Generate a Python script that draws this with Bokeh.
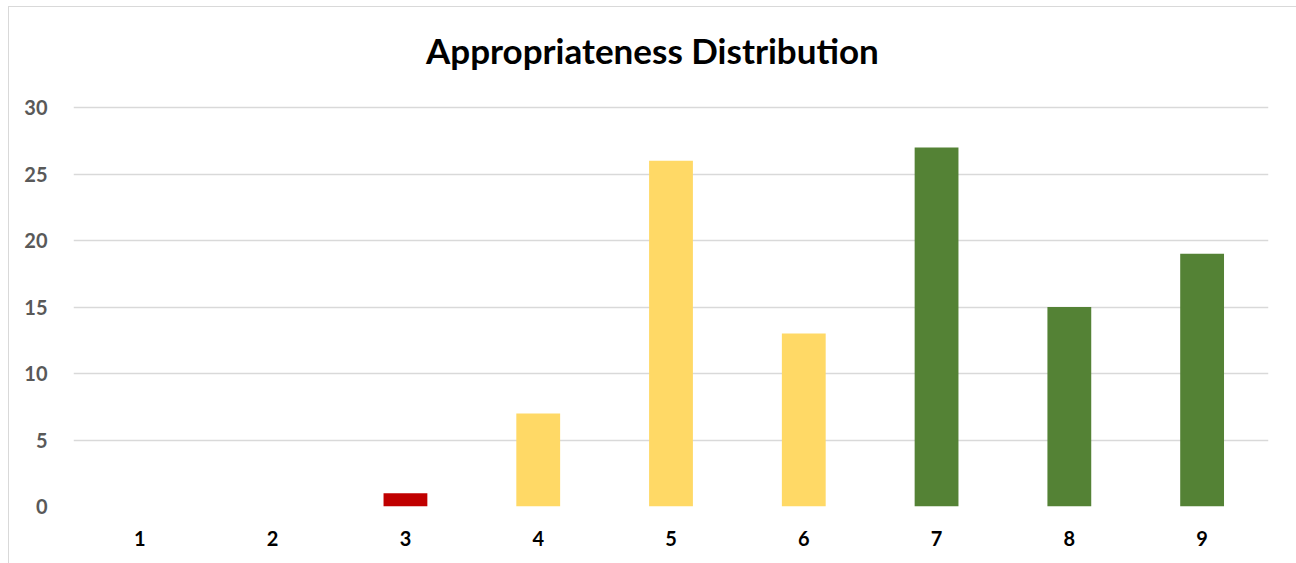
from bokeh.plotting import figure
from bokeh.models import ColumnDataSource, Range1d, FixedTicker, Label
from bokeh.embed import file_html
from bokeh.resources import INLINE

categories = ["1", "2", "3", "4", "5", "6", "7", "8", "9"]
counts = [0, 0, 1, 7, 26, 13, 27, 15, 19]
bar_colors = ["#C00000", "#C00000", "#C00000", "#FFD966", "#FFD966", "#FFD966",
              "#548235", "#548235", "#548235"]
y_ticks = [0, 5, 10, 15, 20, 25, 30]
title_text = "Appropriateness Distribution"

src = ColumnDataSource(dict(cat=categories, val=counts, color=bar_colors))

# the frame reaches the top of the chart area so that the title can sit inside it;
# gridlines and labels only appear at the fixed ticks 0..30
p = figure(x_range=categories, y_range=Range1d(0, 37.52), width=1288, height=560,
           output_backend="svg", toolbar_location=None, title=None,
           min_border_left=64, min_border_right=29, min_border_top=0, min_border_bottom=61)
p.x_range.range_padding = 0
p.vbar(x="cat", top="val", width=0.33, fill_color="color", line_color=None, source=src)

p.add_layout(Label(x=4.36, y=34.36, text=title_text,
                   text_align="center", text_baseline="middle",
                   text_font="Lato", text_font_size="35px", text_font_style="bold",
                   text_color="#000000"))

p.outline_line_color = None
p.styles = {"border-left": "1px solid #d9d9d9", "border-top": "1px solid #d9d9d9",
            "margin-left": "8px", "margin-top": "6px"}

p.xgrid.grid_line_color = None
p.ygrid.grid_line_color = "#d9d9d9"
p.ygrid.grid_line_width = 1.5
p.yaxis.ticker = FixedTicker(ticks=y_ticks)

for ax in (p.xaxis[0], p.yaxis[0]):
    ax.axis_line_color = None
    ax.major_tick_line_color = None
    ax.minor_tick_line_color = None
    ax.major_label_text_font = "Lato"
    ax.major_label_text_font_size = "20px"
    ax.major_label_text_font_style = "bold"

p.yaxis.major_label_text_color = "#595959"
p.yaxis.major_label_standoff = 20
p.xaxis.major_label_text_color = "#000000"
p.xaxis.major_label_standoff = 18

open("out.html", "w").write(file_html(p, INLINE))
